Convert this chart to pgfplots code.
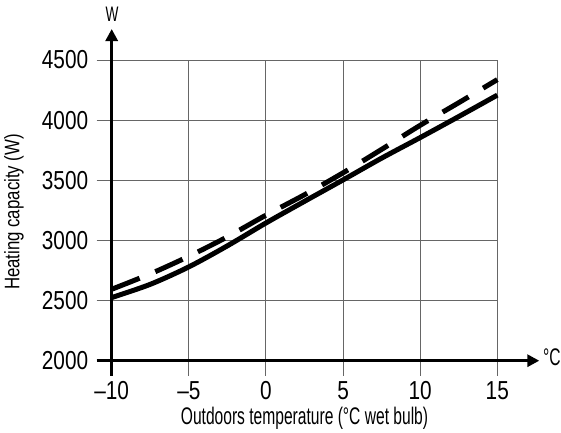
\documentclass[border=0pt]{standalone}
\usepackage{fontspec}
\usepackage{pgfplots}
\pgfplotsset{compat=1.18}
\usetikzlibrary{arrows.meta}
\setmainfont{Liberation Sans}
\newfontfamily\tickfont[FakeStretch=0.8]{Liberation Sans}
\newfontfamily\labfont[FakeStretch=0.65]{Liberation Sans}
\newfontfamily\ylabfont[FakeStretch=0.8]{Liberation Sans}
\begin{document}
\begin{tikzpicture}
\path[use as bounding box] (0,0) rectangle (561pt,432pt);
\begin{axis}[
  at={(111.7pt,71.3pt)}, anchor=south west,
  width=385.6pt, height=300.7pt, scale only axis,
  xmin=-10, xmax=15, ymin=2000, ymax=4500,
  axis lines=left,
  x axis line style={line width=3.5pt, -{Triangle[length=12pt,width=12pt]}, shorten >=-42pt, shorten <=-15pt},
  y axis line style={line width=3.5pt, -{Triangle[length=12pt,width=12pt]}, shorten >=-31pt, shorten <=-15pt},
  xtick={-10,-5,0,5,10,15},
  xticklabels={\textendash10,\textendash5,0,5,10,15},
  ytick={2000,2500,3000,3500,4000,4500},
  yticklabels={2000,2500,3000,3500,4000,4500},
  tick align=outside,
  major tick length=15pt,
  tick style={gray!80!black, line width=1pt},
  grid=major,
  major grid style={gray!80!black, line width=1pt},
  ticklabel style={font=\tickfont\fontsize{26}{26}\selectfont},
  xticklabel style={yshift=-2pt},
  yticklabel style={xshift=-5pt},
  clip=false,
]
\addplot[black, line width=5pt, smooth] coordinates {
  (-10,2525) (-7.5,2635) (-5,2780) (-2.5,2955) (0,3145) (2.5,3325)
  (5,3503) (7.5,3684) (10,3855) (12.5,4030) (15,4208)
};
\addplot[black, line width=5pt, smooth, dash pattern=on 30pt off 17pt] coordinates {
  (-10,2594) (-7.5,2722) (-5,2868) (-2.5,3030) (0,3210) (2.5,3380)
  (5,3562) (7.5,3757) (10,3957) (12.5,4145) (15,4337)
};
\end{axis}
\node[rotate=90, font=\ylabfont\fontsize{21}{21}\selectfont] at (14pt,220pt) {Heating capacity (W)};
\node[anchor=base, font=\labfont\fontsize{24}{24}\selectfont] at (304.5pt,8pt) {Outdoors temperature (°C wet bulb)};
\node[anchor=base, font=\labfont\fontsize{21}{21}\selectfont] at (112pt,410.3pt) {W};
\node[anchor=base west, inner sep=0pt, font=\labfont\fontsize{24}{24}\selectfont] at (543pt,67pt) {°C};
\end{tikzpicture}
\end{document}
